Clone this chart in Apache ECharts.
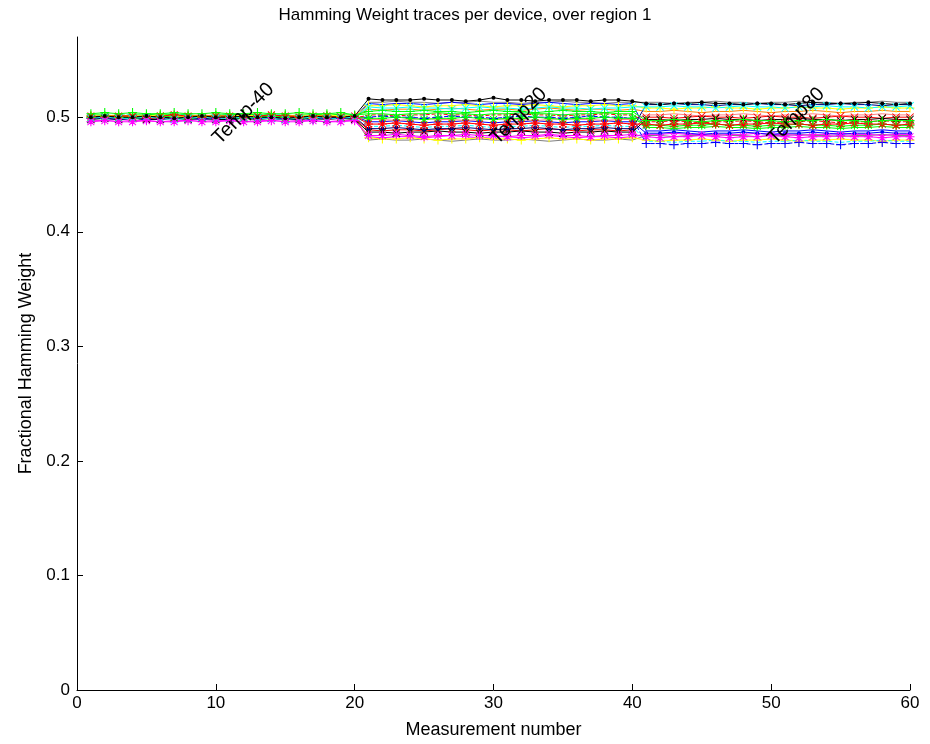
<!DOCTYPE html>
<html>
<head>
<meta charset="UTF-8">
<title>Hamming Weight traces</title>
<script src="https://cdn.jsdelivr.net/npm/echarts@6/dist/echarts.min.js"></script>
<style>
  html, body { margin: 0; padding: 0; background: #fff; }
  #chart { width: 930px; height: 744px; }
</style>
</head>
<body>
<div id="chart"></div>
<script type="text/javascript">
// measurement index (x axis)
var measurement = [1,2,3,4,5,6,7,8,9,10,11,12,13,14,15,16,17,18,19,20,
  21,22,23,24,25,26,27,28,29,30,31,32,33,34,35,36,37,38,39,40,
  41,42,43,44,45,46,47,48,49,50,51,52,53,54,55,56,57,58,59,60];

// fractional hamming weight per device (Temp-40 | Temp20 | Temp80)
var dev01 = [0.500,0.501,0.500,0.500,0.501,0.500,0.499,0.500,0.501,0.500,0.500,0.501,0.500,0.500,0.499,0.500,0.501,0.500,0.500,0.501,
  0.516,0.515,0.515,0.515,0.516,0.515,0.515,0.514,0.515,0.517,0.515,0.515,0.514,0.515,0.515,0.515,0.514,0.515,0.515,0.514,
  0.512,0.511,0.512,0.512,0.513,0.512,0.512,0.511,0.512,0.512,0.511,0.512,0.513,0.512,0.512,0.512,0.513,0.512,0.511,0.512];
var dev02 = [0.500,0.499,0.500,0.501,0.500,0.500,0.499,0.500,0.500,0.501,0.500,0.499,0.500,0.500,0.501,0.500,0.499,0.500,0.501,0.500,
  0.482,0.481,0.481,0.482,0.481,0.480,0.481,0.481,0.482,0.481,0.481,0.480,0.481,0.482,0.481,0.481,0.480,0.481,0.481,0.482,
  0.480,0.479,0.480,0.480,0.481,0.480,0.479,0.480,0.480,0.481,0.480,0.479,0.480,0.480,0.481,0.480,0.480,0.479,0.480,0.480];
var dev03 = [0.503,0.504,0.503,0.504,0.503,0.503,0.504,0.503,0.503,0.504,0.503,0.503,0.504,0.503,0.503,0.504,0.503,0.503,0.504,0.502,
  0.505,0.506,0.505,0.505,0.506,0.505,0.505,0.504,0.505,0.506,0.505,0.505,0.504,0.505,0.506,0.505,0.505,0.504,0.505,0.505,
  0.497,0.497,0.498,0.497,0.496,0.497,0.497,0.498,0.497,0.497,0.496,0.497,0.497,0.498,0.497,0.497,0.496,0.497,0.497,0.497];
var dev04 = [0.496,0.497,0.496,0.496,0.497,0.496,0.496,0.497,0.496,0.496,0.497,0.496,0.496,0.497,0.496,0.496,0.497,0.496,0.496,0.497,
  0.484,0.484,0.485,0.484,0.483,0.484,0.484,0.485,0.484,0.484,0.483,0.484,0.484,0.485,0.484,0.484,0.483,0.484,0.484,0.485,
  0.483,0.482,0.483,0.483,0.484,0.483,0.482,0.483,0.483,0.484,0.483,0.482,0.483,0.483,0.484,0.483,0.483,0.482,0.483,0.483];
var dev05 = [0.499,0.500,0.499,0.499,0.500,0.499,0.498,0.499,0.500,0.499,0.499,0.500,0.499,0.499,0.498,0.499,0.500,0.499,0.499,0.500,
  0.509,0.508,0.508,0.509,0.508,0.508,0.507,0.508,0.509,0.508,0.508,0.507,0.508,0.509,0.508,0.508,0.507,0.508,0.508,0.509,
  0.509,0.509,0.510,0.509,0.509,0.508,0.509,0.510,0.509,0.509,0.508,0.509,0.509,0.510,0.509,0.509,0.508,0.509,0.509,0.510];
var dev06 = [0.501,0.500,0.501,0.501,0.500,0.501,0.502,0.501,0.500,0.501,0.501,0.500,0.501,0.502,0.501,0.500,0.501,0.501,0.500,0.501,
  0.494,0.494,0.495,0.494,0.493,0.494,0.494,0.495,0.494,0.493,0.494,0.494,0.495,0.494,0.494,0.493,0.494,0.494,0.495,0.494,
  0.494,0.493,0.494,0.494,0.495,0.494,0.493,0.494,0.494,0.495,0.494,0.494,0.493,0.494,0.494,0.495,0.494,0.494,0.493,0.494];
var dev07 = [0.499,0.499,0.500,0.499,0.498,0.499,0.499,0.500,0.499,0.499,0.498,0.499,0.499,0.500,0.499,0.499,0.498,0.499,0.499,0.500,
  0.500,0.501,0.500,0.500,0.499,0.500,0.501,0.500,0.500,0.499,0.500,0.501,0.500,0.500,0.499,0.500,0.501,0.500,0.500,0.499,
  0.477,0.477,0.476,0.477,0.477,0.478,0.477,0.477,0.476,0.477,0.477,0.478,0.477,0.477,0.476,0.477,0.477,0.478,0.477,0.477];
var dev08 = [0.500,0.500,0.501,0.500,0.500,0.499,0.500,0.500,0.501,0.500,0.500,0.499,0.500,0.500,0.501,0.500,0.500,0.499,0.500,0.500,
  0.513,0.513,0.514,0.513,0.513,0.512,0.513,0.513,0.514,0.513,0.513,0.512,0.513,0.513,0.514,0.513,0.513,0.512,0.513,0.513,
  0.513,0.513,0.512,0.513,0.513,0.514,0.513,0.513,0.512,0.513,0.513,0.514,0.513,0.513,0.512,0.513,0.513,0.514,0.513,0.513];
var dev09 = [0.501,0.501,0.502,0.501,0.501,0.500,0.501,0.501,0.502,0.501,0.501,0.500,0.501,0.501,0.502,0.501,0.501,0.500,0.501,0.501,
  0.507,0.506,0.507,0.507,0.506,0.507,0.508,0.507,0.506,0.507,0.507,0.506,0.507,0.508,0.507,0.506,0.507,0.507,0.506,0.507,
  0.505,0.505,0.506,0.505,0.504,0.505,0.505,0.506,0.505,0.504,0.505,0.505,0.506,0.505,0.504,0.505,0.505,0.506,0.505,0.505];
var dev10 = [0.500,0.500,0.499,0.500,0.501,0.500,0.500,0.499,0.500,0.501,0.500,0.500,0.499,0.500,0.501,0.500,0.500,0.499,0.500,0.500,
  0.490,0.490,0.491,0.490,0.489,0.490,0.490,0.491,0.490,0.489,0.490,0.490,0.491,0.490,0.489,0.490,0.490,0.491,0.490,0.490,
  0.511,0.511,0.512,0.511,0.511,0.510,0.511,0.511,0.512,0.511,0.511,0.510,0.511,0.511,0.512,0.511,0.511,0.510,0.511,0.511];
var dev11 = [0.500,0.501,0.500,0.500,0.501,0.500,0.499,0.500,0.501,0.500,0.500,0.501,0.500,0.499,0.500,0.501,0.500,0.500,0.501,0.500,
  0.498,0.498,0.497,0.498,0.499,0.498,0.498,0.497,0.498,0.499,0.498,0.498,0.497,0.498,0.499,0.498,0.498,0.497,0.498,0.498,
  0.502,0.502,0.503,0.502,0.501,0.502,0.502,0.503,0.502,0.501,0.502,0.502,0.503,0.502,0.501,0.502,0.502,0.503,0.502,0.502];
var dev12 = [0.502,0.502,0.501,0.502,0.502,0.503,0.502,0.502,0.501,0.502,0.502,0.503,0.502,0.502,0.501,0.502,0.502,0.503,0.502,0.502,
  0.503,0.503,0.502,0.503,0.503,0.504,0.503,0.503,0.502,0.503,0.503,0.504,0.503,0.503,0.502,0.503,0.503,0.504,0.503,0.503,
  0.491,0.491,0.490,0.491,0.491,0.492,0.491,0.491,0.490,0.491,0.491,0.492,0.491,0.491,0.490,0.491,0.491,0.492,0.491,0.491];
var dev13 = [0.499,0.500,0.499,0.500,0.499,0.499,0.500,0.499,0.500,0.499,0.499,0.500,0.499,0.500,0.499,0.499,0.500,0.499,0.500,0.499,
  0.489,0.488,0.489,0.489,0.488,0.489,0.490,0.489,0.488,0.489,0.489,0.488,0.489,0.490,0.489,0.488,0.489,0.489,0.488,0.489,
  0.500,0.500,0.499,0.500,0.501,0.500,0.500,0.499,0.500,0.501,0.500,0.500,0.499,0.500,0.501,0.500,0.500,0.499,0.500,0.500];
var dev14 = [0.501,0.500,0.501,0.500,0.501,0.501,0.500,0.501,0.500,0.501,0.501,0.500,0.501,0.500,0.501,0.501,0.500,0.501,0.500,0.501,
  0.496,0.496,0.497,0.496,0.495,0.496,0.496,0.497,0.496,0.495,0.496,0.496,0.497,0.496,0.495,0.496,0.496,0.497,0.496,0.496,
  0.486,0.486,0.487,0.486,0.485,0.486,0.486,0.487,0.486,0.485,0.486,0.486,0.487,0.486,0.485,0.486,0.486,0.487,0.486,0.486];
var dev15 = [0.498,0.499,0.498,0.499,0.498,0.498,0.499,0.498,0.499,0.498,0.498,0.499,0.498,0.499,0.498,0.498,0.499,0.498,0.499,0.498,
  0.487,0.487,0.486,0.487,0.487,0.488,0.487,0.487,0.486,0.487,0.487,0.488,0.487,0.487,0.486,0.487,0.487,0.488,0.487,0.487,
  0.498,0.498,0.497,0.498,0.498,0.499,0.498,0.498,0.497,0.498,0.498,0.499,0.498,0.498,0.497,0.498,0.498,0.499,0.498,0.498];
var dev16 = [0.497,0.497,0.498,0.497,0.497,0.496,0.497,0.497,0.498,0.497,0.497,0.496,0.497,0.497,0.498,0.497,0.497,0.496,0.497,0.497,
  0.483,0.482,0.483,0.483,0.482,0.483,0.484,0.483,0.482,0.483,0.483,0.482,0.483,0.484,0.483,0.482,0.483,0.483,0.482,0.483,
  0.485,0.485,0.486,0.485,0.485,0.484,0.485,0.485,0.486,0.485,0.485,0.484,0.485,0.485,0.486,0.485,0.485,0.484,0.485,0.485];
var dev17 = [0.502,0.501,0.502,0.502,0.501,0.502,0.503,0.502,0.501,0.502,0.502,0.501,0.502,0.503,0.502,0.501,0.502,0.502,0.501,0.502,
  0.492,0.492,0.493,0.492,0.491,0.492,0.492,0.493,0.492,0.491,0.492,0.492,0.493,0.492,0.491,0.492,0.492,0.493,0.492,0.492,
  0.479,0.479,0.478,0.479,0.479,0.480,0.479,0.479,0.478,0.479,0.479,0.480,0.479,0.479,0.478,0.479,0.479,0.480,0.479,0.479];
var dev18 = [0.501,0.501,0.500,0.501,0.501,0.502,0.501,0.501,0.500,0.501,0.501,0.502,0.501,0.501,0.500,0.501,0.501,0.502,0.501,0.501,
  0.510,0.510,0.511,0.510,0.509,0.510,0.510,0.511,0.510,0.509,0.510,0.510,0.511,0.510,0.509,0.510,0.510,0.511,0.510,0.510,
  0.508,0.508,0.507,0.508,0.508,0.509,0.508,0.508,0.507,0.508,0.508,0.509,0.508,0.508,0.507,0.508,0.508,0.509,0.508,0.508];
var dev19 = [0.500,0.500,0.501,0.500,0.499,0.500,0.500,0.501,0.500,0.499,0.500,0.500,0.501,0.500,0.499,0.500,0.500,0.501,0.500,0.499,
  0.502,0.502,0.501,0.502,0.502,0.503,0.502,0.502,0.501,0.502,0.502,0.503,0.502,0.502,0.501,0.502,0.502,0.503,0.502,0.502,
  0.496,0.496,0.497,0.496,0.495,0.496,0.496,0.497,0.496,0.495,0.496,0.496,0.497,0.496,0.495,0.496,0.496,0.497,0.496,0.496];
var dev20 = [0.499,0.499,0.498,0.499,0.499,0.500,0.499,0.499,0.498,0.499,0.499,0.500,0.499,0.499,0.498,0.499,0.499,0.500,0.499,0.499,
  0.512,0.511,0.512,0.512,0.511,0.512,0.513,0.512,0.511,0.512,0.512,0.511,0.512,0.513,0.512,0.511,0.512,0.512,0.511,0.512,
  0.488,0.488,0.489,0.488,0.487,0.488,0.488,0.489,0.488,0.487,0.488,0.488,0.489,0.488,0.487,0.488,0.488,0.489,0.488,0.488];
var dev21 = [0.500,0.501,0.500,0.499,0.500,0.501,0.500,0.499,0.500,0.501,0.500,0.499,0.500,0.501,0.500,0.499,0.500,0.501,0.500,0.500,
  0.499,0.499,0.500,0.499,0.498,0.499,0.499,0.500,0.499,0.498,0.499,0.499,0.500,0.499,0.498,0.499,0.499,0.500,0.499,0.499,
  0.493,0.493,0.492,0.493,0.493,0.494,0.493,0.493,0.492,0.493,0.493,0.494,0.493,0.493,0.492,0.493,0.493,0.494,0.493,0.493];
var dev22 = [0.500,0.499,0.500,0.500,0.499,0.500,0.501,0.500,0.499,0.500,0.500,0.499,0.500,0.501,0.500,0.499,0.500,0.500,0.499,0.500,
  0.480,0.481,0.480,0.480,0.481,0.480,0.479,0.480,0.481,0.480,0.480,0.481,0.480,0.479,0.480,0.481,0.480,0.480,0.481,0.480,
  0.484,0.484,0.483,0.484,0.484,0.485,0.484,0.484,0.483,0.484,0.484,0.485,0.484,0.484,0.483,0.484,0.484,0.485,0.484,0.484];

var devices = [dev22, dev08, dev16, dev02, dev07, dev17, dev20, dev14, dev11, dev19, dev12, dev09,
  dev18, dev13, dev15, dev10, dev21, dev06, dev05, dev04, dev03, dev01];
var devColors = ['#808080', '#808080', '#ff00ff', '#ffff00', '#0000ff', '#00ffff', '#0000ff', '#0000ff',
  '#ff8080', '#ff0000', '#00ff00', '#ff8000', '#ffff00', '#ff0000', '#000000', '#000080',
  '#00ff00', '#ff0000', '#00ffff', '#ff00ff', '#00ff00', '#000000'];
var devMarks = ['none', 'none', 'none', 'plus', 'plus', 'none', 'none', 'dot', 'none', 'none', 'none', 'none',
  'plus', 'cross', 'cross', 'dot', 'star', 'star', 'cross', 'star', 'plus', 'dot'];
var devDashed = [0, 0, 0, 0, 1, 1, 0, 0, 0, 1, 0, 0, 0, 0, 0, 0, 0, 0, 0, 0, 0, 0];

// rotated temperature labels
var labelX = [10, 30, 50];
var labelY = [0.479, 0.479, 0.479];
var labelText = ['Temp-40', 'Temp20', 'Temp80'];

var yTicks = [0, 0.1, 0.2, 0.3, 0.4, 0.5];

var marks = {
  none: { symbol: 'none', size: 0 },
  dot: { symbol: 'circle', size: 4 },
  plus: { symbol: 'path://M4.4,0h1.2v4.4h4.4v1.2h-4.4v4.4h-1.2v-4.4h-4.4v-1.2h4.4z', size: 9 },
  cross: { symbol: 'path://M0.8,0L5,4.2L9.2,0L10,0.8L5.8,5L10,9.2L9.2,10L5,5.8L0.8,10L0,9.2L4.2,5L0,0.8Z', size: 8 },
  star: { symbol: 'path://M4.4,0h1.2v4.4h4.4v1.2h-4.4v4.4h-1.2v-4.4h-4.4v-1.2h4.4zM1.6,0.8L5,4.2L8.4,0.8L9.2,1.6L5.8,5L9.2,8.4L8.4,9.2L5,5.8L1.6,9.2L0.8,8.4L4.2,5L0.8,1.6Z', size: 9 }
};

var fontName = 'Liberation Sans';
var series = [];
devices.forEach(function (d, i) {
  var m = marks[devMarks[i]];
  series.push({
    type: 'line',
    data: measurement.map(function (x, k) { return [x, d[k]]; }),
    symbol: m.symbol,
    symbolSize: m.size,
    showSymbol: m.symbol !== 'none',
    animation: false,
    lineStyle: { color: devColors[i], width: 1, type: devDashed[i] ? 'dashed' : 'solid' },
    itemStyle: { color: devColors[i], borderWidth: 0 },
    emphasis: { disabled: true }
  });
});

var chart = echarts.init(document.getElementById('chart'));
chart.setOption({
  backgroundColor: '#fff',
  animation: false,
  title: {
    text: 'Hamming Weight traces per device, over region 1',
    left: 'center',
    top: 2,
    textStyle: { fontSize: 17, fontWeight: 'normal', color: '#000', fontFamily: fontName }
  },
  grid: { left: 77, right: 20, top: 37, bottom: 49 },
  xAxis: {
    type: 'value',
    min: 0,
    max: 60,
    interval: 10,
    name: 'Measurement number',
    nameLocation: 'middle',
    nameGap: 31,
    nameTextStyle: { fontSize: 18, color: '#000', fontFamily: fontName },
    axisLine: { lineStyle: { color: '#000', width: 1 } },
    axisTick: { inside: true, length: 6, lineStyle: { color: '#000' } },
    axisLabel: { fontSize: 17, color: '#000', margin: 5, fontFamily: fontName },
    splitLine: { show: false }
  },
  yAxis: {
    type: 'value',
    min: 0,
    max: 0.57,
    name: 'Fractional Hamming Weight',
    nameLocation: 'middle',
    nameGap: 40,
    nameTextStyle: { fontSize: 18, color: '#000', fontFamily: fontName },
    axisLine: { show: true, lineStyle: { color: '#000', width: 1 } },
    axisTick: { show: true, inside: true, length: 6, customValues: yTicks, lineStyle: { color: '#000' } },
    axisLabel: { fontSize: 17, color: '#000', margin: 7, customValues: yTicks, fontFamily: fontName },
    splitLine: { show: false }
  },
  series: series
});

// place the temperature labels through the chart's own scales, rotated about their anchor
chart.setOption({
  graphic: labelX.map(function (x, i) {
    var p = chart.convertToPixel({ gridIndex: 0 }, [x, labelY[i]]);
    return {
      type: 'text',
      x: p[0],
      y: p[1],
      rotation: Math.PI / 4,
      z: 100,
      silent: true,
      style: {
        text: labelText[i],
        fill: '#000',
        font: '20px "Liberation Sans"',
        textAlign: 'left',
        textVerticalAlign: 'middle'
      }
    };
  })
});
</script>
</body>
</html>
